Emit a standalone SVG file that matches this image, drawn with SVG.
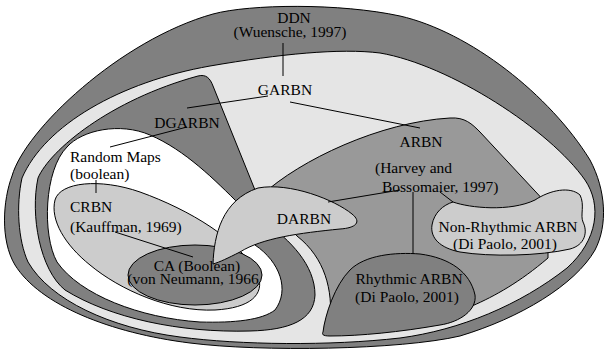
<svg xmlns="http://www.w3.org/2000/svg" width="605" height="351" viewBox="0 0 605 351" font-family="'Liberation Serif', 'DejaVu Serif', serif">
<style>
.r{stroke:#000;stroke-width:1;stroke-linejoin:round}
.dk{fill:#808080}.lt{fill:#e5e5e5}.md{fill:#999999}.pl{fill:#cccccc}.wh{fill:#ffffff}
text{font-family:'Liberation Serif','DejaVu Serif',serif;font-size:15.5px;fill:#000}
.c line{stroke:#000;stroke-width:1}
</style>
<rect width="605" height="351" fill="#fff"/>
<g id="DDN"><path class="r dk" d="M 213,14 C 250,4 340,3 400,16 C 470,32 550,95 590,160 C 606,190 608,225 595,250 C 575,285 520,318 460,336 C 400,350 260,352 190,343 C 110,333 40,305 15,265 C 0,240 3,200 12,176 C 25,130 120,40 213,14 Z"/>
<text x="294" y="23" text-anchor="middle">DDN</text><text x="290" y="37" text-anchor="middle">(Wuensche, 1997)</text></g>
<g id="GARBN"><path class="r lt" d="M 22,178 C 45,125 120,82 210,66 C 280,54 340,48 380,53 C 450,65 550,130 585,180 C 602,205 598,240 567,268 C 520,305 460,330 400,338 C 330,346 240,345 180,337 C 110,328 50,300 28,262 C 18,240 16,205 22,178 Z"/>
<text x="285" y="95" text-anchor="middle">GARBN</text></g>
<g id="DGARBN"><path class="r dk" d="M 38,178 C 50,150 110,100 198,76 C 206,74 210,78 213,86 L 255,190 L 265,222 C 290,240 315,265 315,295 C 314,320 290,330 250,331 C 180,333 110,318 65,290 C 40,270 30,215 38,178 Z"/>
<text x="187" y="128" text-anchor="middle">DGARBN</text></g>
<g id="RandomMaps"><path class="r wh" d="M 67,147 C 82,130 120,122 150,135 C 185,150 215,180 240,205 L 255,245 C 280,262 290,290 275,310 C 262,320 235,323 200,322 C 140,318 80,295 57,262 C 42,235 44,170 67,147 Z"/>
<text x="70" y="162">Random Maps</text><text x="70" y="179">(boolean)</text></g>
<g id="CRBN"><path class="r pl" d="M 55,200 C 60,182 100,178 140,192 C 190,210 240,240 258,275 C 265,295 250,308 215,310 C 170,312 120,290 90,265 C 65,245 50,220 55,200 Z"/>
<text x="70" y="212">CRBN</text><text x="70" y="232">(Kauffman, 1969)</text></g>
<g id="CA"><ellipse class="r dk" cx="195" cy="275" rx="67" ry="30"/>
<text x="197" y="271" text-anchor="middle">CA (Boolean)</text><text x="193" y="284" text-anchor="middle">(von Neumann, 1966</text></g>
<g id="ARBN"><path class="r md" d="M 262,195 C 300,160 380,122 450,118 C 465,117 472,124 480,132 L 548,205 L 548,258 C 520,282 495,296 472,306 L 330,322 C 333,290 325,258 297,236 Z"/>
<text x="421" y="147" text-anchor="middle">ARBN</text><text x="375" y="173">(Harvey and</text><text x="382" y="192">Bossomaier, 1997)</text></g>
<g id="RhythmicARBN"><path class="r dk" d="M 323,332 C 325,315 335,285 350,270 C 365,255 395,252 420,254 C 450,258 470,272 475,295 C 477,310 460,322 440,325 C 400,332 360,336 330,336 C 322,336 322,334 323,332 Z"/>
<text x="409" y="284" text-anchor="middle">Rhythmic ARBN</text><text x="407" y="302" text-anchor="middle">(Di Paolo, 2001)</text></g>
<g id="NonRhythmicARBN"><path class="r pl" d="M 453,202 C 470,208 510,212 535,200 C 550,190 570,186 580,195 C 585,205 580,215 583,222 C 588,232 585,245 570,249 C 540,256 490,257 460,252 C 440,248 430,238 432,225 C 434,213 443,205 453,202 Z"/>
<text x="508" y="232" text-anchor="middle">Non-Rhythmic ARBN</text><text x="505" y="249" text-anchor="middle">(Di Paolo, 2001)</text></g>
<g id="DARBN"><path class="r pl" d="M 213,264 C 214,235 222,200 258,188 C 290,182 335,200 352,214 C 362,222 356,228 340,229 C 300,233 262,238 240,252 C 228,258 220,262 213,264 Z"/>
<text x="304" y="224" text-anchor="middle">DARBN</text></g>
<g class="c" id="connectors">
<line x1="283" y1="43" x2="283" y2="76"/>
<line x1="187" y1="108" x2="268" y2="96"/>
<line x1="290" y1="102" x2="420" y2="128"/>
<line x1="110" y1="147" x2="187" y2="127"/>
<line x1="96" y1="180" x2="96" y2="193"/>
<line x1="115" y1="232" x2="193" y2="257"/>
<line x1="413" y1="192" x2="413" y2="254"/>
<line x1="328" y1="202" x2="400" y2="190"/>
<line x1="440" y1="192" x2="453" y2="202"/>
</g>
</svg>
